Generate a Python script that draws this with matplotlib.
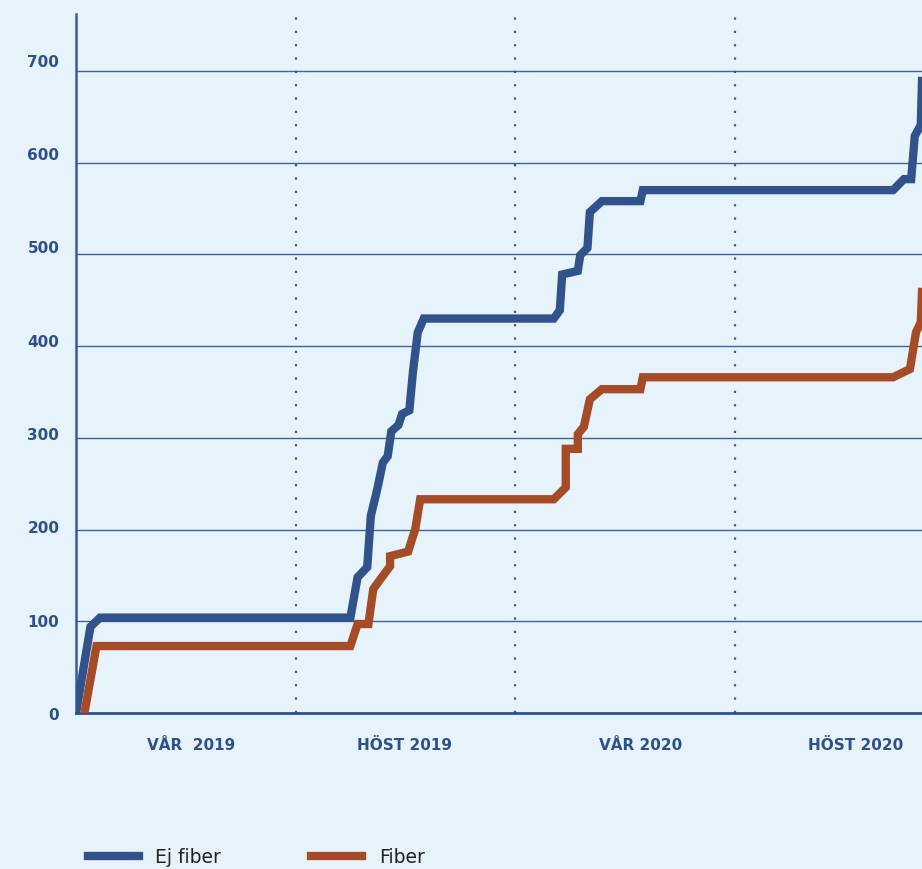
import numpy as np
import matplotlib
matplotlib.use("Agg")
import matplotlib.pyplot as plt
from matplotlib.transforms import ScaledTranslation

# days since start of VT 2019 (one term ~ 182.5 days)
ej_fiber_x = [0, 12, 20, 228, 234, 242, 245, 250, 255, 259, 262, 268, 271, 277, 280, 284, 289,
              397, 402, 404, 417, 419, 425, 427, 437, 469, 471, 679, 688, 694, 697, 702, 703]
ej_fiber_y = [0, 94, 104, 104, 148, 159, 215, 242, 273, 280, 307, 314, 326, 330, 372, 415, 430,
              430, 439, 478, 482, 499, 507, 546, 558, 558, 570, 570, 582, 582, 629, 641, 689]

fiber_x = [7, 17, 228, 234, 243, 247, 253, 261, 261, 276, 282, 286,
           397, 407, 407, 417, 417, 422, 427, 437, 469, 471, 679, 693, 698, 702, 703]
fiber_y = [0, 73, 73, 97, 97, 135, 146, 160, 171, 176, 201, 233,
           233, 246, 288, 288, 304, 312, 342, 353, 353, 366, 366, 375, 415, 426, 459]

term_edges = [182.5, 365, 547.5]
term_pos = [96, 273, 469, 648]
term_labels = ["VÅR  2019", "HÖST 2019", "VÅR 2020", "HÖST 2020"]
yticks = [0, 100, 200, 300, 400, 500, 600, 700]

bg = "#e7f3fb"
navy = "#2f4f8a"
blue = "#31528b"
rust = "#a54b28"

fig = plt.figure(figsize=(9.22, 8.7), dpi=100, facecolor=bg)
ax = fig.add_axes([76 / 922, 156 / 870, 846 / 922, 699 / 870], facecolor=bg)

for y in yticks[1:]:
    ax.axhline(y, color="#3f5fa3", lw=1.0, zorder=1)
for x in term_edges:
    ax.axvline(x, color="#3a5590", lw=1.6, ls=(0, (1, 5)), zorder=1)

ax.plot(ej_fiber_x, ej_fiber_y, color=blue, lw=6, solid_joinstyle="miter", label="Ej fiber", zorder=3)
ax.plot(fiber_x, fiber_y, color=rust, lw=6, solid_joinstyle="miter", label="Fiber", zorder=3)

ax.set_xlim(0, 703)
ax.set_ylim(0, 762)

for s in ["top", "right"]:
    ax.spines[s].set_visible(False)
ax.spines["left"].set_color("#3a5aa0")
ax.spines["left"].set_linewidth(1.8)
ax.spines["bottom"].set_color("#2f4f95")
ax.spines["bottom"].set_linewidth(2.0)

ax.set_yticks(yticks)
ax.set_yticklabels([str(v) for v in yticks], fontsize=11, fontweight="bold", color=navy,
                   family="DejaVu Sans")
ax.tick_params(axis="y", length=0, pad=12)
# the labels drift slightly upward relative to the gridlines
for lab, v in zip(ax.get_yticklabels(), yticks):
    lab.set_transform(lab.get_transform() + ScaledTranslation(0, v * 0.016 / 100, fig.dpi_scale_trans))

ax.set_xticks(term_pos)
ax.set_xticklabels(term_labels, fontsize=11, fontweight="bold", color=navy, family="DejaVu Sans")
ax.tick_params(axis="x", length=0, pad=17)

fig.legend(loc="center left", bbox_to_anchor=(71 / 922, 12 / 870), ncol=2, frameon=False,
           handlelength=2.7, handletextpad=0.9, columnspacing=4.8,
           prop={"family": "DejaVu Sans", "size": 13.5}, labelcolor="#222222")

fig.savefig("out.png", dpi=100, facecolor=bg)
